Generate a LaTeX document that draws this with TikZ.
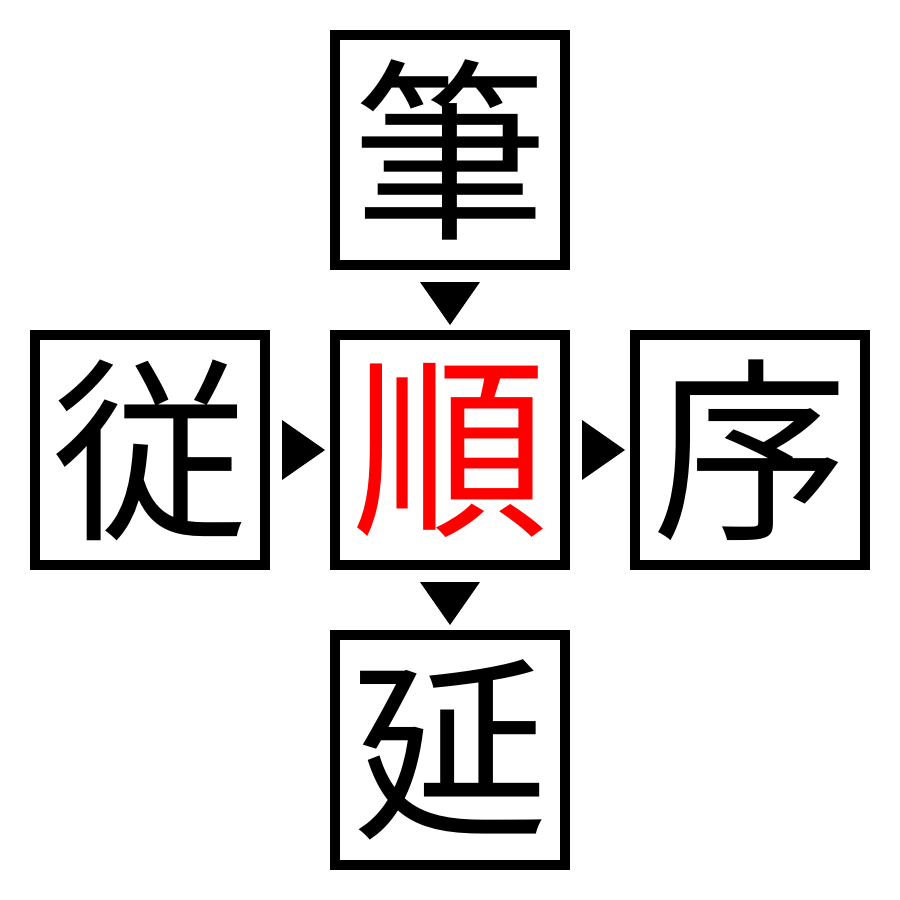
\documentclass[tikz,border=0pt]{standalone}
\usepackage{fontspec}
\newfontfamily\cjk{Noto Sans CJK JP}
\usetikzlibrary{calc}
\begin{document}
\begin{tikzpicture}[x=1pt,y=-1pt,
  kbox/.style={draw=black,line width=10pt,minimum size=230pt,inner sep=0pt,fill=white,
    font=\cjk\fontsize{196}{196}\selectfont},
  arr/.style={fill=black}]
\useasboundingbox (0,0) rectangle (900,900);
\node[kbox] (top) at (450,150) {筆};
\node[kbox] (left) at (150,450) {従};
\node[kbox,text=red] (mid) at (450,450) {順};
\node[kbox] (right) at (750,450) {序};
\node[kbox] (bot) at (450,750) {延};
\fill[arr] ($(top.south)+(-30,12)$) -- ($(top.south)+(30,12)$) -- ($(top.south)+(0,55)$) -- cycle;
\fill[arr] ($(mid.south)+(-30,12)$) -- ($(mid.south)+(30,12)$) -- ($(mid.south)+(0,55)$) -- cycle;
\fill[arr] ($(left.east)+(12,-30)$) -- ($(left.east)+(12,30)$) -- ($(left.east)+(55,0)$) -- cycle;
\fill[arr] ($(mid.east)+(12,-30)$) -- ($(mid.east)+(12,30)$) -- ($(mid.east)+(55,0)$) -- cycle;
\end{tikzpicture}
\end{document}
